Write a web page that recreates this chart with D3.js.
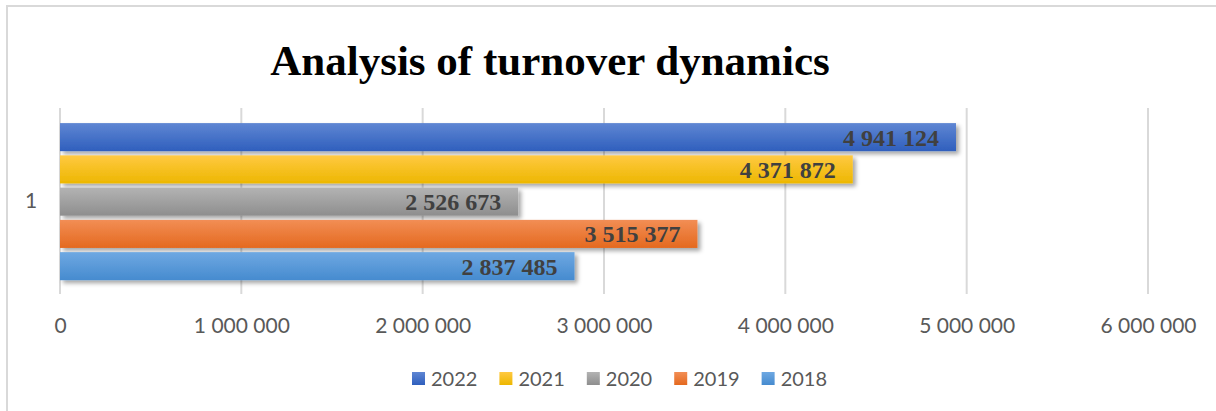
<!DOCTYPE html>
<html>
<head>
<meta charset="utf-8">
<script src="https://cdn.jsdelivr.net/npm/d3@7"></script>
<style>
  html, body { margin: 0; padding: 0; background: #fff; }
  svg { display: block; }
</style>
</head>
<body>
<div id="chart"></div>
<script>
// chart data
var years = ["2022", "2021", "2020", "2019", "2018"];
var turnover = [4941124, 4371872, 2526673, 3515377, 2837485];
var tickValues = [0, 1000000, 2000000, 3000000, 4000000, 5000000, 6000000];
var categories = ["1"];
var titleText = "Analysis of turnover dynamics";

// colour per series: [top of gradient, bottom of gradient]
var seriesColors = {
    "2022": ["#5f86d3", "#2f5fbd"],
    "2021": ["#ffc942", "#edb700"],
    "2020": ["#b3b3b3", "#8e8e8e"],
    "2019": ["#f28e55", "#e4691f"],
    "2018": ["#6ea8e2", "#468bcf"]
};

var W = 1216, H = 411;

var svg = d3.select("#chart").append("svg")
    .attr("width", W)
    .attr("height", H);

var defs = svg.append("defs");

years.forEach(function (y) {
    var g = defs.append("linearGradient")
        .attr("id", "grad" + y)
        .attr("x1", 0).attr("y1", 0)
        .attr("x2", 0).attr("y2", 1);
    g.append("stop").attr("offset", "0%").attr("stop-color", seriesColors[y][0]);
    g.append("stop").attr("offset", "100%").attr("stop-color", seriesColors[y][1]);
});

defs.append("filter")
    .attr("id", "shadow")
    .attr("x", "-5%").attr("y", "-30%")
    .attr("width", "110%").attr("height", "170%")
    .append("feDropShadow")
    .attr("dx", 3).attr("dy", 3)
    .attr("stdDeviation", 2)
    .attr("flood-color", "#000")
    .attr("flood-opacity", 0.35);

// chart frame (only top and left edges are visible in the picture)
svg.append("line")
    .attr("x1", 6).attr("x2", W).attr("y1", 6).attr("y2", 6)
    .attr("stroke", "#d9d9d9").attr("stroke-width", 2);
svg.append("line")
    .attr("x1", 7).attr("x2", 7).attr("y1", 6).attr("y2", H)
    .attr("stroke", "#d9d9d9").attr("stroke-width", 2);

// title
svg.append("text")
    .attr("x", 550)
    .attr("y", 75)
    .attr("text-anchor", "middle")
    .attr("font-family", "'Liberation Serif', 'Times New Roman', serif")
    .attr("font-weight", "bold")
    .attr("font-size", 43)
    .attr("fill", "#000")
    .text(titleText);

var plotTop = 108, plotBottom = 294;

var x = d3.scaleLinear()
    .domain([0, 6000000])
    .range([60, 1148]);

var cat = d3.scaleBand()
    .domain(categories)
    .range([plotTop, plotBottom]);

var yInner = d3.scaleBand()
    .domain(years)
    .range([121, 282.3])
    .paddingInner(0.13)
    .paddingOuter(0.065);

var fmt = function (v) {
    return d3.format(",")(v).replace(/,/g, " ");
};

// vertical gridlines
svg.append("g")
    .selectAll("line")
    .data(tickValues)
    .join("line")
    .attr("x1", function (d) { return x(d); })
    .attr("x2", function (d) { return x(d); })
    .attr("y1", plotTop)
    .attr("y2", plotBottom)
    .attr("stroke", "#d9d9d9")
    .attr("stroke-width", 2);

// x axis tick labels
var xAxis = d3.axisBottom(x)
    .tickValues(tickValues)
    .tickSize(0)
    .tickPadding(0)
    .tickFormat(fmt);

var xAxisGroup = svg.append("g")
    .attr("transform", "translate(0,318)")
    .call(xAxis);
xAxisGroup.select(".domain").remove();
xAxisGroup.selectAll("text")
    .attr("font-family", "Lato, 'Open Sans', sans-serif")
    .attr("font-size", 21)
    .attr("fill", "#595959")
    .attr("dy", "0.71em");

// category label
svg.append("g")
    .selectAll("text")
    .data(categories)
    .join("text")
    .attr("x", 31)
    .attr("y", function (d) { return cat(d) + cat.bandwidth() / 2; })
    .attr("dy", "0.35em")
    .attr("text-anchor", "middle")
    .attr("font-family", "Lato, 'Open Sans', sans-serif")
    .attr("font-size", 21)
    .attr("fill", "#595959")
    .text(function (d) { return d; });

// bars
var bars = svg.append("g").attr("class", "bars");
bars.selectAll("rect")
    .data(years)
    .join("rect")
    .attr("x", x(0))
    .attr("y", function (d) { return yInner(d); })
    .attr("width", function (d, i) { return x(turnover[i]) - x(0); })
    .attr("height", yInner.bandwidth())
    .attr("fill", function (d) { return "url(#grad" + d + ")"; })
    .attr("filter", "url(#shadow)");

// value labels inside the bar ends
bars.selectAll("text")
    .data(years)
    .join("text")
    .attr("x", function (d, i) { return x(turnover[i]) - 17; })
    .attr("y", function (d) { return yInner(d) + yInner.bandwidth() / 2; })
    .attr("dy", "0.35em")
    .attr("text-anchor", "end")
    .attr("font-family", "'Liberation Serif', 'Times New Roman', serif")
    .attr("font-weight", "bold")
    .attr("font-size", 24)
    .attr("fill", "#404040")
    .text(function (d, i) { return fmt(turnover[i]); });

// legend
var legend = svg.append("g").attr("transform", "translate(412,372)");
var lx = 0;
years.forEach(function (y) {
    var item = legend.append("g").attr("transform", "translate(" + lx + ",0)");
    item.append("rect")
        .attr("width", 13).attr("height", 13)
        .attr("fill", "url(#grad" + y + ")");
    var t = item.append("text")
        .attr("x", 19)
        .attr("y", 14)
        .attr("font-family", "Lato, 'Open Sans', sans-serif")
        .attr("font-size", 20)
        .attr("fill", "#595959")
        .text(y);
    lx += 19 + t.node().getComputedTextLength() + 22;
});
</script>
</body>
</html>
